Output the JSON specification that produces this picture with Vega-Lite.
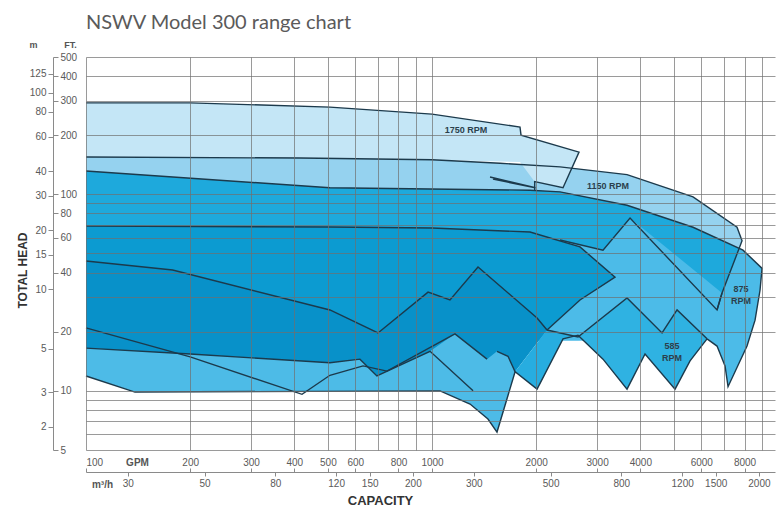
{
  "$schema": "https://vega.github.io/schema/vega-lite/v6.json",
  "width": 689,
  "height": 393,
  "autosize": {"type": "none"},
  "padding": {"left": 86, "top": 57, "right": 1, "bottom": 63},
  "background": "white",
  "config": {
    "view": {"stroke": null},
    "font": "Liberation Sans",
    "axis": {"labelFont": "Liberation Sans", "titleFont": "Liberation Sans", "labelColor": "#5a5a5a", "titleColor": "#333333", "labelFontSize": 10}
  },
  "title": {"text": "NSWV Model 300 range chart", "anchor": "start", "frame": "group", "font": "Lato", "fontSize": 20, "fontWeight": "normal", "color": "#5a5a5a", "offset": 7},
  "datasets": {
    "fills": [
      {"id": "f1", "i": 0, "gpm": 100, "ft": 155}, {"id": "f1", "i": 1, "gpm": 415, "ft": 153}, {"id": "f1", "i": 2, "gpm": 1000, "ft": 150}, {"id": "f1", "i": 3, "gpm": 1573, "ft": 144}, {"id": "f1", "i": 4, "gpm": 2344, "ft": 138}, {"id": "f1", "i": 5, "gpm": 3661, "ft": 126}, {"id": "f1", "i": 6, "gpm": 5680, "ft": 97}, {"id": "f1", "i": 7, "gpm": 7612, "ft": 68}, {"id": "f1", "i": 8, "gpm": 7870, "ft": 58}, {"id": "f1", "i": 9, "gpm": 6889, "ft": 31.5}, {"id": "f1", "i": 10, "gpm": 100, "ft": 31.5},
      {"id": "f2", "i": 0, "gpm": 100, "ft": 292}, {"id": "f2", "i": 1, "gpm": 200, "ft": 292}, {"id": "f2", "i": 2, "gpm": 507, "ft": 278}, {"id": "f2", "i": 3, "gpm": 1000, "ft": 256}, {"id": "f2", "i": 4, "gpm": 1796, "ft": 220}, {"id": "f2", "i": 5, "gpm": 1808, "ft": 200}, {"id": "f2", "i": 6, "gpm": 2660, "ft": 164}, {"id": "f2", "i": 7, "gpm": 2391, "ft": 108}, {"id": "f2", "i": 8, "gpm": 1980, "ft": 116}, {"id": "f2", "i": 9, "gpm": 1796, "ft": 146}, {"id": "f2", "i": 10, "gpm": 1000, "ft": 150}, {"id": "f2", "i": 11, "gpm": 415, "ft": 153}, {"id": "f2", "i": 12, "gpm": 100, "ft": 155},
      {"id": "f3", "i": 0, "gpm": 100, "ft": 131.5}, {"id": "f3", "i": 1, "gpm": 507, "ft": 108}, {"id": "f3", "i": 2, "gpm": 1920, "ft": 105}, {"id": "f3", "i": 3, "gpm": 2344, "ft": 103}, {"id": "f3", "i": 4, "gpm": 3661, "ft": 88}, {"id": "f3", "i": 5, "gpm": 5680, "ft": 68}, {"id": "f3", "i": 6, "gpm": 7921, "ft": 52}, {"id": "f3", "i": 7, "gpm": 8991, "ft": 42}, {"id": "f3", "i": 8, "gpm": 8872, "ft": 32.6}, {"id": "f3", "i": 9, "gpm": 8582, "ft": 22.9}, {"id": "f3", "i": 10, "gpm": 8135, "ft": 16.9}, {"id": "f3", "i": 11, "gpm": 7170, "ft": 10.5}, {"id": "f3", "i": 12, "gpm": 7028, "ft": 13.4}, {"id": "f3", "i": 13, "gpm": 6663, "ft": 16.9}, {"id": "f3", "i": 14, "gpm": 6235, "ft": 18.4}, {"id": "f3", "i": 15, "gpm": 4621, "ft": 18.3}, {"id": "f3", "i": 16, "gpm": 2642, "ft": 18}, {"id": "f3", "i": 17, "gpm": 100, "ft": 18},
      {"id": "f4", "i": 0, "gpm": 100, "ft": 131.5}, {"id": "f4", "i": 1, "gpm": 507, "ft": 108}, {"id": "f4", "i": 2, "gpm": 1920, "ft": 105}, {"id": "f4", "i": 3, "gpm": 2344, "ft": 103}, {"id": "f4", "i": 4, "gpm": 3661, "ft": 88}, {"id": "f4", "i": 5, "gpm": 5680, "ft": 68}, {"id": "f4", "i": 6, "gpm": 7700, "ft": 53}, {"id": "f4", "i": 7, "gpm": 6889, "ft": 31.5}, {"id": "f4", "i": 8, "gpm": 3735, "ft": 75.8}, {"id": "f4", "i": 9, "gpm": 3120, "ft": 52}, {"id": "f4", "i": 10, "gpm": 2344, "ft": 58.6}, {"id": "f4", "i": 11, "gpm": 100, "ft": 58.6},
      {"id": "f5", "i": 0, "gpm": 100, "ft": 69}, {"id": "f5", "i": 1, "gpm": 507, "ft": 68.2}, {"id": "f5", "i": 2, "gpm": 1000, "ft": 67.4}, {"id": "f5", "i": 3, "gpm": 1920, "ft": 64.3}, {"id": "f5", "i": 4, "gpm": 2677, "ft": 54}, {"id": "f5", "i": 5, "gpm": 3380, "ft": 37.9}, {"id": "f5", "i": 6, "gpm": 2677, "ft": 29}, {"id": "f5", "i": 7, "gpm": 2150, "ft": 20.4}, {"id": "f5", "i": 8, "gpm": 1500, "ft": 14}, {"id": "f5", "i": 9, "gpm": 100, "ft": 14},
      {"id": "f6", "i": 0, "gpm": 100, "ft": 45.8}, {"id": "f6", "i": 1, "gpm": 178, "ft": 41.2}, {"id": "f6", "i": 2, "gpm": 507, "ft": 25.8}, {"id": "f6", "i": 3, "gpm": 698, "ft": 19.7}, {"id": "f6", "i": 4, "gpm": 974, "ft": 31.8}, {"id": "f6", "i": 5, "gpm": 1127, "ft": 29}, {"id": "f6", "i": 6, "gpm": 1358, "ft": 42.7}, {"id": "f6", "i": 7, "gpm": 2012, "ft": 23.5}, {"id": "f6", "i": 8, "gpm": 2150, "ft": 20.4}, {"id": "f6", "i": 9, "gpm": 1738, "ft": 12.5}, {"id": "f6", "i": 10, "gpm": 1314, "ft": 10}, {"id": "f6", "i": 11, "gpm": 987, "ft": 15.9}, {"id": "f6", "i": 12, "gpm": 693, "ft": 11.9}, {"id": "f6", "i": 13, "gpm": 619, "ft": 14.5}, {"id": "f6", "i": 14, "gpm": 507, "ft": 13.9}, {"id": "f6", "i": 15, "gpm": 200, "ft": 15.4}, {"id": "f6", "i": 16, "gpm": 100, "ft": 16.5},
      {"id": "f7", "i": 0, "gpm": 100, "ft": 16.5}, {"id": "f7", "i": 1, "gpm": 200, "ft": 15.4}, {"id": "f7", "i": 2, "gpm": 507, "ft": 13.9}, {"id": "f7", "i": 3, "gpm": 619, "ft": 14.5}, {"id": "f7", "i": 4, "gpm": 693, "ft": 11.9}, {"id": "f7", "i": 5, "gpm": 987, "ft": 15.9}, {"id": "f7", "i": 6, "gpm": 1165, "ft": 19.5}, {"id": "f7", "i": 7, "gpm": 1442, "ft": 14.5}, {"id": "f7", "i": 8, "gpm": 1541, "ft": 15.9}, {"id": "f7", "i": 9, "gpm": 1658, "ft": 15}, {"id": "f7", "i": 10, "gpm": 1738, "ft": 12.5}, {"id": "f7", "i": 11, "gpm": 1541, "ft": 6.17}, {"id": "f7", "i": 12, "gpm": 1451, "ft": 7.19}, {"id": "f7", "i": 13, "gpm": 1288, "ft": 8.57}, {"id": "f7", "i": 14, "gpm": 1055, "ft": 10}, {"id": "f7", "i": 15, "gpm": 138.5, "ft": 9.86}, {"id": "f7", "i": 16, "gpm": 100, "ft": 11.9},
      {"id": "f8", "i": 0, "gpm": 1738, "ft": 12.5}, {"id": "f8", "i": 1, "gpm": 2012, "ft": 10.2}, {"id": "f8", "i": 2, "gpm": 2391, "ft": 18.4}, {"id": "f8", "i": 3, "gpm": 2642, "ft": 19.2}, {"id": "f8", "i": 4, "gpm": 2642, "ft": 18.8}, {"id": "f8", "i": 5, "gpm": 2150, "ft": 20.4},
      {"id": "f9", "i": 0, "gpm": 2642, "ft": 18.8}, {"id": "f9", "i": 1, "gpm": 3661, "ft": 29.7}, {"id": "f9", "i": 2, "gpm": 4621, "ft": 19.7}, {"id": "f9", "i": 3, "gpm": 5107, "ft": 25.8}, {"id": "f9", "i": 4, "gpm": 6235, "ft": 18.4}, {"id": "f9", "i": 5, "gpm": 5568, "ft": 14.2}, {"id": "f9", "i": 6, "gpm": 5039, "ft": 10.2}, {"id": "f9", "i": 7, "gpm": 4127, "ft": 15.4}, {"id": "f9", "i": 8, "gpm": 3661, "ft": 10.2}, {"id": "f9", "i": 9, "gpm": 3120, "ft": 14.5}, {"id": "f9", "i": 10, "gpm": 2642, "ft": 19.2}
    ],
    "lines": [
      {"id": "o01", "i": 0, "gpm": 100, "ft": 292}, {"id": "o01", "i": 1, "gpm": 200, "ft": 292}, {"id": "o01", "i": 2, "gpm": 507, "ft": 278}, {"id": "o01", "i": 3, "gpm": 1000, "ft": 256}, {"id": "o01", "i": 4, "gpm": 1796, "ft": 220}, {"id": "o01", "i": 5, "gpm": 1808, "ft": 200}, {"id": "o01", "i": 6, "gpm": 2660, "ft": 164}, {"id": "o01", "i": 7, "gpm": 2391, "ft": 108}, {"id": "o01", "i": 8, "gpm": 1980, "ft": 116}, {"id": "o01", "i": 9, "gpm": 1980, "ft": 105},
      {"id": "o02", "i": 0, "gpm": 1471, "ft": 122.6}, {"id": "o02", "i": 1, "gpm": 1990, "ft": 108}, {"id": "o02", "i": 2, "gpm": 1500, "ft": 119.5},
      {"id": "o03", "i": 0, "gpm": 100, "ft": 155}, {"id": "o03", "i": 1, "gpm": 415, "ft": 153}, {"id": "o03", "i": 2, "gpm": 1000, "ft": 150}, {"id": "o03", "i": 3, "gpm": 1573, "ft": 144}, {"id": "o03", "i": 4, "gpm": 2344, "ft": 138}, {"id": "o03", "i": 5, "gpm": 3661, "ft": 126}, {"id": "o03", "i": 6, "gpm": 5680, "ft": 97}, {"id": "o03", "i": 7, "gpm": 7612, "ft": 68}, {"id": "o03", "i": 8, "gpm": 7870, "ft": 58}, {"id": "o03", "i": 9, "gpm": 6889, "ft": 31.5}, {"id": "o03", "i": 10, "gpm": 6663, "ft": 25.8},
      {"id": "o04", "i": 0, "gpm": 100, "ft": 131.5}, {"id": "o04", "i": 1, "gpm": 507, "ft": 108}, {"id": "o04", "i": 2, "gpm": 1920, "ft": 105}, {"id": "o04", "i": 3, "gpm": 2344, "ft": 103}, {"id": "o04", "i": 4, "gpm": 3661, "ft": 88}, {"id": "o04", "i": 5, "gpm": 5680, "ft": 68}, {"id": "o04", "i": 6, "gpm": 7921, "ft": 52}, {"id": "o04", "i": 7, "gpm": 8991, "ft": 42}, {"id": "o04", "i": 8, "gpm": 8872, "ft": 32.6}, {"id": "o04", "i": 9, "gpm": 8582, "ft": 22.9}, {"id": "o04", "i": 10, "gpm": 8135, "ft": 16.9}, {"id": "o04", "i": 11, "gpm": 7170, "ft": 10.5}, {"id": "o04", "i": 12, "gpm": 7028, "ft": 13.4}, {"id": "o04", "i": 13, "gpm": 6663, "ft": 16.9}, {"id": "o04", "i": 14, "gpm": 6235, "ft": 18.4},
      {"id": "o05", "i": 0, "gpm": 100, "ft": 69}, {"id": "o05", "i": 1, "gpm": 507, "ft": 68.2}, {"id": "o05", "i": 2, "gpm": 1000, "ft": 67.4}, {"id": "o05", "i": 3, "gpm": 1920, "ft": 64.3}, {"id": "o05", "i": 4, "gpm": 2677, "ft": 54}, {"id": "o05", "i": 5, "gpm": 3380, "ft": 37.9}, {"id": "o05", "i": 6, "gpm": 2677, "ft": 29}, {"id": "o05", "i": 7, "gpm": 2150, "ft": 20.4},
      {"id": "o06", "i": 0, "gpm": 2344, "ft": 58.6}, {"id": "o06", "i": 1, "gpm": 3120, "ft": 52}, {"id": "o06", "i": 2, "gpm": 3735, "ft": 75.8}, {"id": "o06", "i": 3, "gpm": 6663, "ft": 25.8}, {"id": "o06", "i": 4, "gpm": 6889, "ft": 31.5},
      {"id": "o07", "i": 0, "gpm": 100, "ft": 45.8}, {"id": "o07", "i": 1, "gpm": 178, "ft": 41.2}, {"id": "o07", "i": 2, "gpm": 507, "ft": 25.8}, {"id": "o07", "i": 3, "gpm": 698, "ft": 19.7}, {"id": "o07", "i": 4, "gpm": 974, "ft": 31.8}, {"id": "o07", "i": 5, "gpm": 1127, "ft": 29}, {"id": "o07", "i": 6, "gpm": 1358, "ft": 42.7}, {"id": "o07", "i": 7, "gpm": 2012, "ft": 23.5}, {"id": "o07", "i": 8, "gpm": 2150, "ft": 20.4}, {"id": "o07", "i": 9, "gpm": 2642, "ft": 18.8}, {"id": "o07", "i": 10, "gpm": 3661, "ft": 29.7}, {"id": "o07", "i": 11, "gpm": 4621, "ft": 19.7}, {"id": "o07", "i": 12, "gpm": 5107, "ft": 25.8}, {"id": "o07", "i": 13, "gpm": 6235, "ft": 18.4},
      {"id": "o08", "i": 0, "gpm": 100, "ft": 16.5}, {"id": "o08", "i": 1, "gpm": 200, "ft": 15.4}, {"id": "o08", "i": 2, "gpm": 507, "ft": 13.9}, {"id": "o08", "i": 3, "gpm": 619, "ft": 14.5}, {"id": "o08", "i": 4, "gpm": 693, "ft": 11.9}, {"id": "o08", "i": 5, "gpm": 987, "ft": 15.9}, {"id": "o08", "i": 6, "gpm": 1314, "ft": 10},
      {"id": "o09", "i": 0, "gpm": 100, "ft": 20.9}, {"id": "o09", "i": 1, "gpm": 200, "ft": 14.9}, {"id": "o09", "i": 2, "gpm": 421, "ft": 9.6}, {"id": "o09", "i": 3, "gpm": 507, "ft": 12.0}, {"id": "o09", "i": 4, "gpm": 632, "ft": 13.4}, {"id": "o09", "i": 5, "gpm": 741, "ft": 12.6}, {"id": "o09", "i": 6, "gpm": 1165, "ft": 19.5}, {"id": "o09", "i": 7, "gpm": 1442, "ft": 14.5},
      {"id": "o10", "i": 0, "gpm": 100, "ft": 11.9}, {"id": "o10", "i": 1, "gpm": 138.5, "ft": 9.86}, {"id": "o10", "i": 2, "gpm": 1055, "ft": 10}, {"id": "o10", "i": 3, "gpm": 1288, "ft": 8.57}, {"id": "o10", "i": 4, "gpm": 1451, "ft": 7.19}, {"id": "o10", "i": 5, "gpm": 1541, "ft": 6.17}, {"id": "o10", "i": 6, "gpm": 1738, "ft": 12.5}, {"id": "o10", "i": 7, "gpm": 2012, "ft": 10.2}, {"id": "o10", "i": 8, "gpm": 2391, "ft": 18.4}, {"id": "o10", "i": 9, "gpm": 2642, "ft": 19.2}, {"id": "o10", "i": 10, "gpm": 3120, "ft": 14.5}, {"id": "o10", "i": 11, "gpm": 3661, "ft": 10.2}, {"id": "o10", "i": 12, "gpm": 4127, "ft": 15.4}, {"id": "o10", "i": 13, "gpm": 5039, "ft": 10.2}, {"id": "o10", "i": 14, "gpm": 5568, "ft": 14.2}, {"id": "o10", "i": 15, "gpm": 6235, "ft": 18.4},
      {"id": "o11", "i": 0, "gpm": 1541, "ft": 15.9}, {"id": "o11", "i": 1, "gpm": 1658, "ft": 15}, {"id": "o11", "i": 2, "gpm": 1738, "ft": 12.5}
    ],
    "labels": [
      {"gpm": 1254, "ft": 212, "t": "1750 RPM"},
      {"gpm": 3227, "ft": 110, "t": "1150 RPM"},
      {"gpm": 7818, "ft": 33, "t": "875\nRPM"},
      {"gpm": 4939, "ft": 16.9, "t": "585\nRPM"}
    ]
  },
  "layer": [
    {
      "data": {"name": "fills"},
      "mark": {"type": "line", "interpolate": "linear-closed", "strokeWidth": 0, "fillOpacity": 1},
      "encoding": {
        "x": {"field": "gpm", "type": "quantitative", "scale": {"type": "log", "domain": [100, 9800], "nice": false},
          "axis": {"orient": "bottom", "values": [100, 200, 300, 400, 500, 600, 700, 800, 900, 1000, 2000, 3000, 4000, 5000, 6000, 7000, 8000, 9000], "grid": true, "gridColor": "#6f6f6f", "gridOpacity": 0.7, "gridWidth": 1, "labels": false, "ticks": false, "domain": false, "zindex": 1,
            "title": "CAPACITY", "titleX": 294, "titleY": 50, "titleAngle": 0, "titleAlign": "center", "titleBaseline": "middle", "titleFontSize": 13, "titleFontWeight": "bold", "titleColor": "#333333"}},
        "y": {"field": "ft", "type": "quantitative", "scale": {"type": "log", "domain": [5, 500], "nice": false},
          "axis": {"orient": "left", "values": [5, 6, 7, 8, 9, 10, 20, 30, 40, 50, 60, 70, 80, 90, 100, 200, 300, 400, 500], "grid": true, "gridColor": "#6f6f6f", "gridOpacity": 0.7, "gridWidth": 1, "labels": false, "ticks": false, "domain": false, "zindex": 1,
            "title": "TOTAL HEAD", "titleX": -64, "titleY": 213, "titleAngle": -90, "titleAlign": "center", "titleBaseline": "middle", "titleFontSize": 12, "titleFontWeight": "bold", "titleColor": "#333333"}},
        "detail": {"field": "id", "type": "nominal"},
        "order": {"field": "i", "type": "quantitative"},
        "fill": {"field": "id", "type": "nominal", "legend": null,
          "scale": {"domain": ["f1", "f2", "f3", "f4", "f5", "f6", "f7", "f8", "f9"], "range": ["#95d2ef", "#c4e6f6", "#4cbbe8", "#1ea9dc", "#0c9bd1", "#0891c9", "#4dbbe7", "#27ade0", "#2fb2e2"]}}
      }
    },
    {
      "data": {"name": "lines"},
      "mark": {"type": "line", "stroke": "#1c3a4c", "strokeWidth": 1.4, "strokeJoin": "miter"},
      "encoding": {
        "x": {"field": "gpm", "type": "quantitative", "scale": {"type": "log", "domain": [100, 9800], "nice": false},
          "axis": {"orient": "bottom", "values": [100, 200, 300, 400, 500, 600, 800, 1000, 2000, 3000, 4000, 6000, 8000], "grid": false, "offset": 22, "domain": true, "domainColor": "#8a8a8a", "ticks": true, "tickSize": -4, "tickColor": "#8a8a8a", "labelBaseline": "bottom", "labelPadding": -1, "labelOverlap": false, "format": "d",
            "title": "GPM", "titleX": 51, "titleY": -10, "titleAngle": 0, "titleAlign": "center", "titleBaseline": "middle", "titleFontSize": 10, "titleFontWeight": "bold", "titleColor": "#555555"}},
        "y": {"field": "ft", "type": "quantitative", "scale": {"type": "log", "domain": [5, 500], "nice": false},
          "axis": {"orient": "left", "values": [5, 10, 20, 40, 60, 80, 100, 200, 300, 400, 500], "grid": false, "offset": 33, "domain": false, "ticks": true, "tickSize": -5, "tickColor": "#8a8a8a", "labelAlign": "left", "labelPadding": -2, "labelOverlap": false, "format": "d",
            "title": "FT.", "titleX": 17, "titleY": -13, "titleAngle": 0, "titleAlign": "center", "titleBaseline": "middle", "titleFontSize": 9, "titleFontWeight": "bold", "titleColor": "#555555"}},
        "detail": {"field": "id", "type": "nominal"},
        "order": {"field": "i", "type": "quantitative"}
      }
    },
    {
      "data": {"name": "labels"},
      "mark": {"type": "text", "font": "Liberation Sans", "fontSize": 9, "fontWeight": "bold", "color": "#2b3f4c", "lineBreak": "\n", "lineHeight": 12},
      "encoding": {
        "x": {"field": "gpm", "type": "quantitative", "scale": {"type": "log", "domain": [100, 9800], "nice": false},
          "axis": {"orient": "bottom", "values": [132.086, 220.14, 352.23, 528.34, 660.43, 880.57, 1320.86, 2201.43, 3522.3, 5283.4, 6604.3, 8805.7], "labelExpr": "format(datum.value/4.40287, '.0f')", "grid": false, "offset": 22, "domain": false, "ticks": true, "tickSize": 4, "tickColor": "#8a8a8a", "labelPadding": 2, "labelOverlap": false, "labelFlush": false,
            "title": "m³/h", "titleX": 16, "titleY": 12, "titleAngle": 0, "titleAlign": "center", "titleBaseline": "middle", "titleFontSize": 10, "titleFontWeight": "bold", "titleColor": "#555555"}},
        "y": {"field": "ft", "type": "quantitative", "scale": {"type": "log", "domain": [5, 500], "nice": false},
          "axis": {"orient": "left", "values": [6.5617, 9.8425, 16.404, 32.808, 49.213, 65.617, 98.425, 131.23, 196.85, 262.47, 328.08, 410.1], "labelExpr": "format(datum.value*0.3048, '.0f')", "grid": false, "offset": 33, "domain": true, "domainColor": "#8a8a8a", "ticks": true, "tickSize": 5, "tickColor": "#8a8a8a", "labelPadding": 2, "labelOverlap": false,
            "title": "m", "titleX": -20, "titleY": -13, "titleAngle": 0, "titleAlign": "center", "titleBaseline": "middle", "titleFontSize": 9, "titleFontWeight": "bold", "titleColor": "#555555"}},
        "text": {"field": "t", "type": "nominal"}
      }
    }
  ],
  "resolve": {"axis": {"x": "independent", "y": "independent"}}
}
